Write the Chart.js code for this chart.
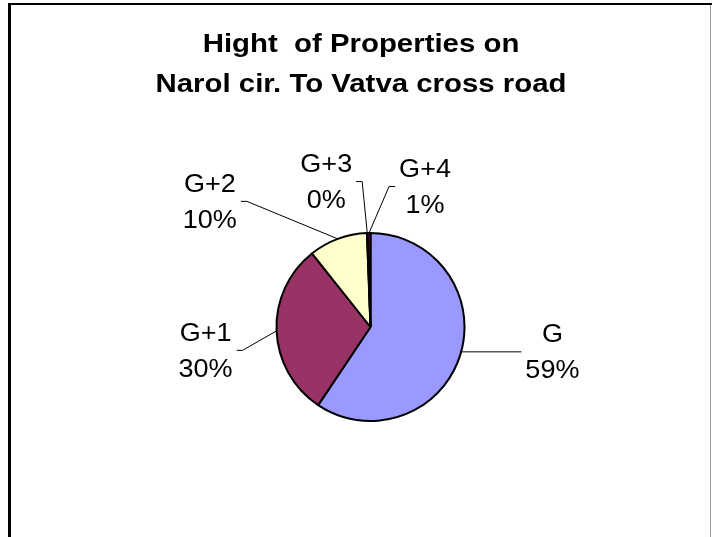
<!DOCTYPE html>
<html>
<head>
<meta charset="utf-8">
<script src="https://cdn.jsdelivr.net/npm/chart.js@4.4.1/dist/chart.umd.min.js"></script>
<style>
    html, body { margin: 0; padding: 0; background: #fff; }
    #wrap { position: relative; width: 712px; height: 537px; }
</style>
</head>
<body>
<div id="wrap"><canvas id="pieChart" width="712" height="537"></canvas></div>
<script>
const titleLines = ['Hight  of Properties on', 'Narol cir. To Vatva cross road'];
const categories = ['G', 'G+1', 'G+2', 'G+3', 'G+4'];
const shares = [59.4, 29.9, 10.1, 0.1, 0.5];
const sliceColors = ['#9999FF', '#993366', '#FFFFCC', '#CCFFFF', '#660066'];

// where each callout sits, relative to the middle of its slice's rim
const calloutOffsets = [[92, -3], [-71, 19], [-128, -38], [-41, -52], [56, -47]];

const fontFamily = '"Liberation Sans", Arial, sans-serif';

function drawStretched(ctx, text, x, y, sx) {
    ctx.save();
    ctx.translate(x, y);
    ctx.scale(sx, 1);
    ctx.fillText(text, 0, 0);
    ctx.restore();
}

const calloutPlugin = {
    id: 'callouts',
    beforeDraw(chart) {
        const ctx = chart.ctx;
        ctx.save();
        ctx.fillStyle = '#ffffff';
        ctx.fillRect(0, 0, chart.width, chart.height);
        ctx.fillStyle = '#000000';
        ctx.fillRect(8, 3, chart.width - 8, 2);
        ctx.fillRect(8, 3, 3, chart.height - 3);
        ctx.fillStyle = '#9a9a9a';
        ctx.fillRect(chart.width - 2, 5, 1, chart.height - 5);

        ctx.fillStyle = '#000000';
        ctx.textAlign = 'center';
        ctx.textBaseline = 'alphabetic';
        ctx.font = 'bold 26px ' + fontFamily;
        drawStretched(ctx, titleLines[0], 361, 52, 1.13);
        drawStretched(ctx, titleLines[1], 361, 92, 1.13);
        ctx.restore();
    },
    afterDatasetsDraw(chart) {
        const ctx = chart.ctx;
        const meta = chart.getDatasetMeta(0);
        const values = chart.data.datasets[0].data;
        const total = values.reduce((a, b) => a + b, 0);
        const sx = 1.04;

        ctx.save();
        ctx.font = '26px ' + fontFamily;
        ctx.textAlign = 'center';
        ctx.textBaseline = 'alphabetic';
        ctx.fillStyle = '#000000';
        ctx.strokeStyle = '#000000';
        ctx.lineWidth = 1;

        meta.data.forEach((arc, i) => {
            const p = arc.getProps(['x', 'y', 'startAngle', 'endAngle', 'outerRadius'], true);
            const mid = (p.startAngle + p.endAngle) / 2;
            let ex = p.x + Math.cos(mid) * p.outerRadius;
            let ey = p.y + Math.sin(mid) * p.outerRadius;
            const cx = ex + calloutOffsets[i][0];
            const cy = ey + calloutOffsets[i][1];

            const line1 = chart.data.labels[i];
            const line2 = Math.round(values[i] / total * 100) + '%';
            const half = Math.max(ctx.measureText(line1).width, ctx.measureText(line2).width) * sx / 2 + 4;
            const side = cx < ex ? 1 : -1;
            const endX = cx + side * half;
            const elbowX = endX + side * 6;

            ctx.beginPath();
            if (Math.abs(ey - cy) > 4) {
                ctx.moveTo(ex, ey);
                ctx.lineTo(elbowX, cy + 0.5);
            } else {
                // nearly level: run straight out from the rim
                const dy = cy - p.y;
                ex = p.x - side * Math.sqrt(p.outerRadius * p.outerRadius - dy * dy);
                ctx.moveTo(ex, cy + 0.5);
            }
            ctx.lineTo(endX, cy + 0.5);
            ctx.stroke();

            drawStretched(ctx, line1, cx, cy - 9, sx);
            drawStretched(ctx, line2, cx, cy + 27, sx);
        });
        ctx.restore();
    }
};

new Chart(document.getElementById('pieChart'), {
    type: 'pie',
    data: {
        labels: categories,
        datasets: [
            {
                data: shares,
                backgroundColor: sliceColors,
                borderColor: '#000000',
                borderWidth: 2
            }
        ]
    },
    options: {
        responsive: false,
        animation: false,
        events: [],
        radius: 94,
        layout: {
            padding: { left: 129, right: 100, top: 167, bottom: 50 }
        },
        plugins: {
            legend: { display: false },
            title: { display: false },
            tooltip: { enabled: false }
        }
    },
    plugins: [calloutPlugin]
});
</script>
</body>
</html>
